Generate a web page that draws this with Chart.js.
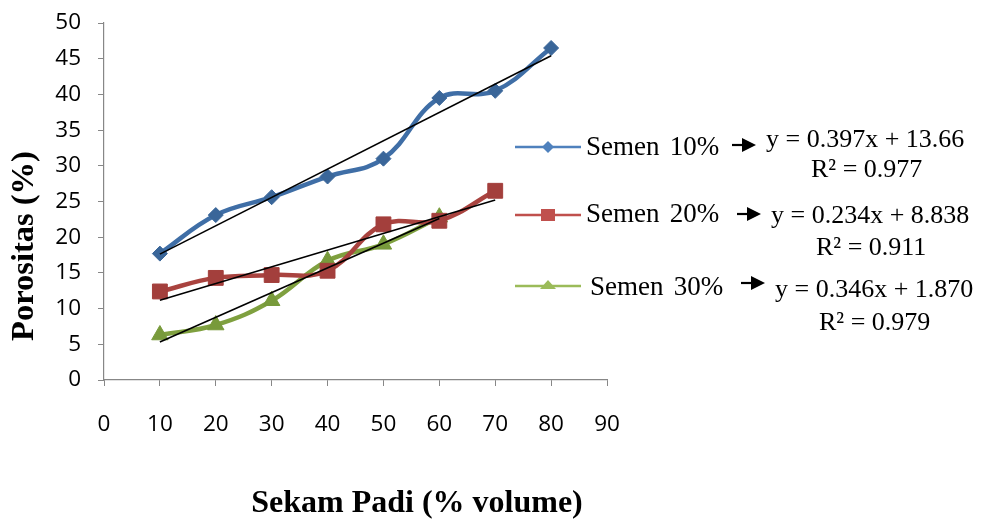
<!DOCTYPE html>
<html>
<head>
<meta charset="utf-8">
<script src="https://cdn.jsdelivr.net/npm/chart.js@4"></script>
<style>
  html, body { margin: 0; padding: 0; background: #fff; }
  #wrap { position: relative; width: 982px; height: 520px; overflow: hidden; }
  #chart { position: absolute; left: 0; top: 0; }
  #overlay { position: absolute; left: 0; top: 0; }
  #overlay text { font-family: "Liberation Serif", "Times New Roman", serif; fill: #000; }
</style>
</head>
<body>
<div id="wrap">
  <canvas id="chart" width="982" height="520"></canvas>
  <svg id="overlay" width="982" height="520" xmlns="http://www.w3.org/2000/svg"></svg>
</div>
<script>
// Rice husk content (% volume) and measured porosity (%) per cement content
const sekamPadi = [10, 20, 30, 40, 50, 60, 70, 80];
const semen10 = [17.7, 23.1, 25.6, 28.5, 31.0, 39.5, 40.5, 46.5];
const semen20 = [12.4, 14.3, 14.7, 15.3, 21.8, 22.3, 26.5];
const semen30 = [6.3, 7.7, 11.1, 16.7, 19.0, 22.8];

const seriesNames = ['Semen 10%', 'Semen 20%', 'Semen 30%'];
// Linear trend coefficients y = a·x + b and R²
const slopes = [0.397, 0.234, 0.346];
const intercepts = [13.66, 8.838, 1.870];
const rSquared = ['0.977', '0.911', '0.979'];

const xTickValues = [0, 10, 20, 30, 40, 50, 60, 70, 80, 90];
const yTickValues = [0, 5, 10, 15, 20, 25, 30, 35, 40, 45, 50];

const seriesValues = [semen10, semen20, semen30];
const lineColors = ['#3F6EA6', '#A9433F', '#7FA03F'];
const markerColors = ['#3A6699', '#A33F3C', '#789A3B'];
const legendColors = ['#4F81BD', '#C0504D', '#9BBB59'];
const markerStyles = ['rectRot', 'rect', 'triangle'];
const markerRadii = [7.5, 10.5, 9.5];

const axisGrey = '#878787';

const toPoints = vals => vals.map((v, i) => ({ x: sekamPadi[i], y: v }));

const datasets = [];
seriesValues.forEach((vals, s) => {
  const xs = sekamPadi.slice(0, vals.length);
  const x0 = xs[0], x1 = xs[xs.length - 1];
  datasets.push({
    label: seriesNames[s] + ' trend',
    data: [
      { x: x0, y: slopes[s] * x0 + intercepts[s] },
      { x: x1, y: slopes[s] * x1 + intercepts[s] }
    ],
    borderColor: '#000',
    borderWidth: 1.6,
    pointRadius: 0,
    tension: 0,
    order: 0
  });
});
seriesValues.forEach((vals, s) => {
  datasets.push({
    label: seriesNames[s],
    data: toPoints(vals),
    borderColor: lineColors[s],
    borderWidth: 4.5,
    tension: 0.4,
    pointStyle: markerStyles[s],
    pointRadius: markerRadii[s],
    pointBackgroundColor: markerColors[s],
    pointBorderColor: markerColors[s],
    pointBorderWidth: 1,
    order: 1 + s
  });
});

new Chart(document.getElementById('chart'), {
  type: 'line',
  data: { datasets },
  options: {
    responsive: false,
    animation: false,
    events: [],
    layout: { padding: { left: 0, right: 375, top: 23, bottom: 0 } },
    plugins: { legend: { display: false }, tooltip: { enabled: false } },
    scales: {
      x: {
        type: 'linear',
        min: xTickValues[0],
        max: xTickValues[xTickValues.length - 1],
        afterBuildTicks: scale => { scale.ticks = xTickValues.map(v => ({ value: v })); },
        afterFit: scale => { scale.height = 140; scale.paddingLeft = 0; scale.paddingRight = 0; },
        ticks: {
          color: '#000',
          padding: 25,
          maxRotation: 0,
          autoSkip: false,
          font: { family: 'Open Sans', size: 22.5 }
        },
        grid: { drawOnChartArea: false, drawTicks: true, tickLength: 6, color: axisGrey, lineWidth: 1 },
        border: { color: axisGrey, width: 1.2 }
      },
      y: {
        type: 'linear',
        min: yTickValues[0],
        max: yTickValues[yTickValues.length - 1],
        afterBuildTicks: scale => { scale.ticks = yTickValues.map(v => ({ value: v })); },
        afterFit: scale => { scale.width = 104; scale.paddingTop = 0; scale.paddingBottom = 0; },
        ticks: {
          color: '#000',
          padding: 17,
          autoSkip: false,
          font: { family: 'Open Sans', size: 22.5 }
        },
        grid: { drawOnChartArea: false, drawTicks: true, tickLength: 6, color: axisGrey, lineWidth: 1 },
        border: { color: axisGrey, width: 1.2 }
      }
    }
  }
});

// Axis titles, legend entries and trend equations
const svg = document.getElementById('overlay');
const NS = 'http://www.w3.org/2000/svg';
function el(tag, attrs, text) {
  const e = document.createElementNS(NS, tag);
  for (const k in attrs) e.setAttribute(k, attrs[k]);
  if (text !== undefined) e.textContent = text;
  svg.appendChild(e);
  return e;
}

el('text', { x: 417, y: 512, 'text-anchor': 'middle', 'font-size': 32, 'font-weight': 'bold' }, 'Sekam Padi (% volume)');
el('text', { x: 0, y: 0, 'text-anchor': 'middle', 'font-size': 32.5, 'font-weight': 'bold',
  transform: 'translate(33,246) rotate(-90)' }, 'Porositas (%)');

const rows = [
  { lineY: 147, nameX: 586, nameY: 155, arrowX: 732, arrowY: 145, eqX: 766, eqY: 146.5, r2X: 811, r2Y: 176.5 },
  { lineY: 215, nameX: 586, nameY: 222, arrowX: 737, arrowY: 214, eqX: 771, eqY: 223, r2X: 816, r2Y: 255 },
  { lineY: 286, nameX: 590, nameY: 295, arrowX: 741, arrowY: 283, eqX: 775, eqY: 297, r2X: 819, r2Y: 330 }
];

rows.forEach((r, s) => {
  el('line', { x1: 515, x2: 581, y1: r.lineY, y2: r.lineY, stroke: legendColors[s], 'stroke-width': 2.5 });
  const cx = 548, cy = r.lineY;
  if (s === 0) {
    el('polygon', { points: `${cx - 6},${cy} ${cx},${cy - 6} ${cx + 6},${cy} ${cx},${cy + 6}`, fill: legendColors[s] });
  } else if (s === 1) {
    el('rect', { x: cx - 7, y: cy - 6, width: 14, height: 12, fill: legendColors[s] });
  } else {
    el('polygon', { points: `${cx - 8},${cy + 3} ${cx},${cy - 6} ${cx + 8},${cy + 3}`, fill: legendColors[s] });
  }
  el('text', { x: r.nameX, y: r.nameY, 'font-size': 27, 'word-spacing': 3.5 }, seriesNames[s]);
  // arrow
  el('line', { x1: r.arrowX, x2: r.arrowX + 12, y1: r.arrowY, y2: r.arrowY, stroke: '#000', 'stroke-width': 2.2 });
  el('polygon', { points: `${r.arrowX + 10},${r.arrowY - 7} ${r.arrowX + 24},${r.arrowY} ${r.arrowX + 10},${r.arrowY + 7}`, fill: '#000' });
  const eq = 'y = ' + slopes[s].toFixed(3) + 'x + ' + (s === 0 ? intercepts[s].toFixed(2) : intercepts[s].toFixed(3));
  el('text', { x: r.eqX, y: r.eqY, 'font-size': 26 }, eq);
  el('text', { x: r.r2X, y: r.r2Y, 'font-size': 26 }, 'R² = ' + rSquared[s]);
});
</script>
</body>
</html>
